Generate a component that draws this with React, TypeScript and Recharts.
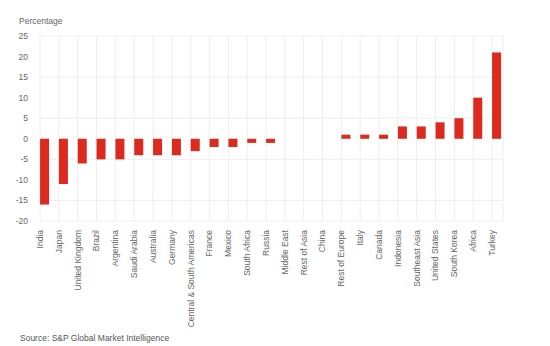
import { BarChart, Bar, XAxis, YAxis, CartesianGrid } from 'recharts';

const regions = [
  'India', 'Japan', 'United Kingdom', 'Brazil', 'Argentina', 'Saudi Arabia', 'Australia',
  'Germany', 'Central & South Americas', 'France', 'Mexico', 'South Africa', 'Russia',
  'Middle East', 'Rest of Asia', 'China', 'Rest of Europe', 'Italy', 'Canada', 'Indonesia',
  'Southeast Asia', 'United States', 'South Korea', 'Africa', 'Turkey',
];
const changes = [-16, -11, -6, -5, -5, -4, -4, -4, -3, -2, -2, -1, -1, 0, 0, 0, 1, 1, 1, 3, 3, 4, 5, 10, 21];
const yTicks = [-20, -15, -10, -5, 0, 5, 10, 15, 20, 25];

const data = regions.map((name, i) => ({ name, value: changes[i] }));

const FONT = '"Liberation Sans", Arial, sans-serif';

function XTick({ x, y, payload }: any) {
  return (
    <text
      x={x}
      y={y + 1}
      transform={`rotate(-90 ${x} ${y + 1})`}
      textAnchor="end"
      dy="0.35em"
      fontSize={8.5}
      fontFamily={FONT}
      fill="#666"
    >
      {payload.value}
    </text>
  );
}

// bars sit just right of their tick, not centred on it
function OffsetBar({ x, y, width, height, fill }: any) {
  if (width == null || height == null) return null;
  const h = Math.abs(height);
  const top = height < 0 ? y + height : y;
  return <rect x={x + width / 2} y={top} width={width} height={h} fill={fill} />;
}

export default function App() {
  return (
    <div style={{ position: 'absolute', left: 0, top: 0, width: 550, height: 346, background: '#fff' }}>
      <div style={{ position: 'absolute', left: 19, top: 16, fontSize: 8.5, fontFamily: FONT, color: '#666' }}>
        Percentage
      </div>
      <BarChart width={550} height={346} data={data} margin={{ top: 36, right: 47, left: 0, bottom: 15 }}>
        <CartesianGrid stroke="#eeeeee" />
        <XAxis
          dataKey="name"
          scale="point"
          padding={{ left: 0, right: 11 }}
          interval={0}
          height={110}
          axisLine={false}
          tickLine={false}
          tick={<XTick />}
        />
        <YAxis
          width={40}
          domain={[-20, 25]}
          ticks={yTicks}
          axisLine={false}
          tickLine={false}
          tickMargin={6}
          tick={{ fontSize: 8.5, fontFamily: FONT, fill: '#666' }}
        />
        <Bar dataKey="value" fill="#dc2b1e" barSize={9} isAnimationActive={false} shape={<OffsetBar />} />
      </BarChart>
      <div style={{ position: 'absolute', left: 20, top: 333, fontSize: 8.5, fontFamily: FONT, color: '#555' }}>
        Source: S&amp;P Global Market Intelligence
      </div>
    </div>
  );
}
